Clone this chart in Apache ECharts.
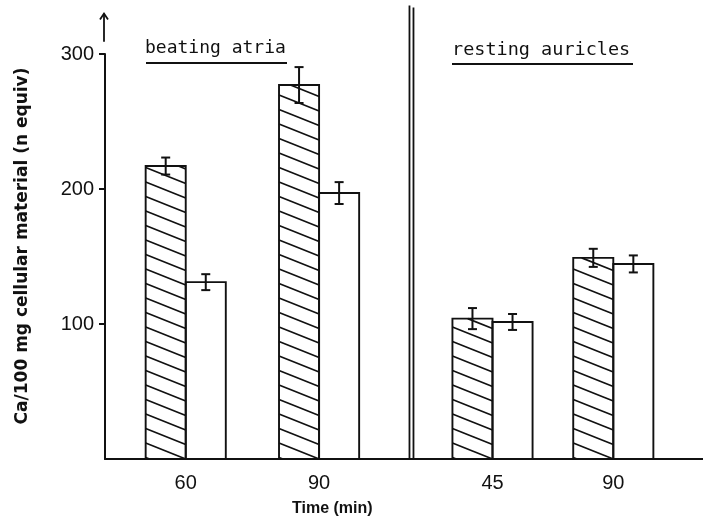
<!DOCTYPE html>
<html>
<head>
<meta charset="utf-8">
<script src="https://cdn.jsdelivr.net/npm/echarts@6/dist/echarts.min.js"></script>
<style>html,body{margin:0;padding:0;background:#fff}#c{width:703px;height:523px}</style>
</head>
<body>
<div id="c"></div>
<script>
// ---- data ----
const groupLabels = ['60', '90', '45', '90'];
const groupPos = [13.5, 35.8, 64.8, 85.0];      // position of each group along the time axis
const hatchedValues = [217, 277, 104, 149];     // hatched bars
const hatchedErr = [6.3, 13.3, 7.8, 6.7];
const openValues = [131, 197, 101.5, 144.5];    // open bars
const openErr = [5.9, 8.1, 5.9, 6.3];
const yTicks = [100, 200, 300];
const dividerPos = 51.25;                        // double separator line
const sectionLabels = ['beating atria', 'resting auricles'];
const yTitle = 'Ca/100 mg cellular material (n equiv)';
const xTitle = 'Time (min)';

const BAR_W = 6.7;   // bar width in x-axis units
const INK = '#111';

const chart = echarts.init(document.getElementById('c'), null, {renderer: 'canvas'});

function barItem(api, side, hatched) {
  const pos = api.value(0), v = api.value(1), e = api.value(2);
  const w = api.size([BAR_W, 0])[0];
  const base = api.coord([pos, 0]);
  const top = api.coord([pos, v]);
  const x1 = side < 0 ? base[0] - w : base[0];
  const x2 = x1 + w;
  const yTop = top[1], yBot = base[1];
  const children = [];
  if (hatched) {
    const s = 0.4, d = 14.5;
    const c0 = yBot - s * (x2 - x1);
    for (let k = -3; k < 200; k++) {
      const c = c0 - k * d;
      if (c + s * (x2 - x1) < yTop) break;
      let xa = x1 + (yTop - c) / s, xb = x1 + (yBot - c) / s;
      xa = Math.max(x1, xa); xb = Math.min(x2, xb);
      if (xb <= xa) continue;
      children.push({type: 'line', shape: {x1: xa, y1: c + s * (xa - x1), x2: xb, y2: c + s * (xb - x1)},
        style: {stroke: INK, lineWidth: 1.7}});
    }
  }
  children.push({type: 'rect', shape: {x: x1, y: yTop, width: w, height: yBot - yTop},
    style: {fill: 'none', stroke: INK, lineWidth: 1.9}});
  const cx = (x1 + x2) / 2;
  const eHi = api.coord([pos, v + e])[1], eLo = api.coord([pos, v - e])[1];
  children.push({type: 'line', shape: {x1: cx, y1: eHi, x2: cx, y2: eLo}, style: {stroke: INK, lineWidth: 2}});
  children.push({type: 'line', shape: {x1: cx - 4.5, y1: eHi, x2: cx + 4.5, y2: eHi}, style: {stroke: INK, lineWidth: 2}});
  children.push({type: 'line', shape: {x1: cx - 4.5, y1: eLo, x2: cx + 4.5, y2: eLo}, style: {stroke: INK, lineWidth: 2}});
  return {type: 'group', children};
}

const option = {
  animation: false,
  backgroundColor: '#fff',
  grid: {left: 105, right: 0, top: 54, bottom: 64, containLabel: false},
  xAxis: {
    type: 'value', min: 0, max: 100,
    splitLine: {show: false},
    axisLine: {show: true, lineStyle: {color: INK, width: 2}},
    axisTick: {show: false},
    axisLabel: {
      customValues: groupPos,
      formatter: (v) => { const i = groupPos.indexOf(v); return i >= 0 ? groupLabels[i] : ''; },
      color: INK, fontFamily: 'Liberation Sans', fontSize: 20, margin: 14
    }
  },
  yAxis: {
    type: 'value', min: 0, max: 300, interval: 100,
    splitLine: {show: false},
    axisLine: {show: true, lineStyle: {color: INK, width: 2}},
    axisTick: {show: true, customValues: yTicks, length: 6, lineStyle: {color: INK, width: 2}},
    axisLabel: {
      customValues: yTicks,
      color: INK, fontFamily: 'Liberation Sans', fontSize: 20, margin: 11
    }
  },
  series: [
    {
      type: 'custom', name: 'hatched', clip: false,
      data: groupPos.map((p, i) => [p, hatchedValues[i], hatchedErr[i]]),
      renderItem: (params, api) => barItem(api, -1, true)
    },
    {
      type: 'custom', name: 'open', clip: false,
      data: groupPos.map((p, i) => [p, openValues[i], openErr[i]]),
      renderItem: (params, api) => barItem(api, 1, false)
    },
    {
      type: 'custom', name: 'decor', clip: false, silent: true,
      data: [[dividerPos, 336, 105, 309, 330]],
      renderItem: (params, api) => {
        const b = api.coord([api.value(0), 0]);
        const t = api.coord([api.value(0), api.value(1)]);
        const ax = api.coord([0, api.value(3)]);
        const at = api.coord([0, api.value(4)]);
        return {type: 'group', children: [
          {type: 'line', shape: {x1: b[0] - 2, y1: b[1], x2: t[0] - 2, y2: t[1]}, style: {stroke: INK, lineWidth: 1.8}},
          {type: 'line', shape: {x1: b[0] + 2, y1: b[1], x2: t[0] + 2, y2: t[1] + 2}, style: {stroke: INK, lineWidth: 1.8}},
          {type: 'line', shape: {x1: ax[0] - 1, y1: ax[1], x2: at[0] - 1, y2: at[1]}, style: {stroke: INK, lineWidth: 1.8}},
          {type: 'polyline', shape: {points: [[at[0] - 5, at[1] + 6], [at[0] - 1, at[1]], [at[0] + 3, at[1] + 6]]}, style: {stroke: INK, fill: 'none', lineWidth: 1.8}}
        ]};
      }
    }
  ],
  graphic: [
    {type: 'text', left: 145, top: 39, style: {text: sectionLabels[0], font: '18px "DejaVu Sans Mono"', fill: INK}},
    {type: 'line', shape: {x1: 146, y1: 63, x2: 287, y2: 63}, style: {stroke: INK, lineWidth: 2}},
    {type: 'text', left: 452, top: 41, style: {text: sectionLabels[1], font: '18.5px "DejaVu Sans Mono"', fill: INK}},
    {type: 'line', shape: {x1: 452, y1: 64, x2: 633, y2: 64}, style: {stroke: INK, lineWidth: 2}},
    {type: 'text', left: 292, top: 501, style: {text: xTitle, font: 'bold 16px "Liberation Sans"', fill: INK}},
    {type: 'text', x: 23, y: 246, rotation: Math.PI / 2,
      style: {text: yTitle, font: 'bold 17px "DejaVu Sans"', fill: INK, align: 'center', verticalAlign: 'middle'}}
  ]
};
chart.setOption(option);
</script>
</body>
</html>
